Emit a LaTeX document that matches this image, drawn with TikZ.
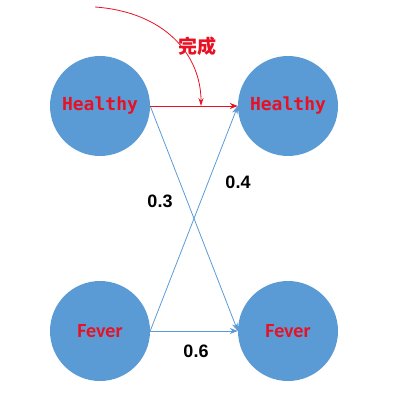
\documentclass[tikz,border=0pt]{standalone}
\usepackage{fontspec}
\usepackage{amsmath}
\setmainfont{Liberation Sans}
\newfontfamily\cjk{Noto Sans CJK SC}
\newfontfamily\monofont{DejaVu Sans Mono}
\newfontfamily\calfont{Carlito}
\usetikzlibrary{positioning,arrows.meta}
\definecolor{stateblue}{HTML}{5B9BD5}
\definecolor{labelred}{HTML}{E81123}

\begin{document}
\begin{tikzpicture}[x=1pt, y=-1pt,
  state/.style={circle, fill=stateblue, minimum size=100pt, inner sep=0pt},
  trans/.style={draw=stateblue, line width=0.8pt, -{Stealth[length=8pt, width=6pt]}},
  prob/.style={font=\bfseries\fontsize{18}{18}\selectfont}]
\useasboundingbox (0,0) rectangle (419,414);
\node[state] (h1) at (100, 106) {\monofont\bfseries\fontsize{18}{18}\selectfont\color{labelred}Healthy};
\node[state] (h2) at (288, 106) {\monofont\bfseries\fontsize{18}{18}\selectfont\color{labelred}Healthy};
\node[state] (f1) at (100, 331) {\calfont\bfseries\fontsize{20}{20}\selectfont\color{labelred}Fever};
\node[state] (f2) at (288, 331) {\calfont\bfseries\fontsize{20}{20}\selectfont\color{labelred}Fever};

\draw[trans] (h1.east) -- (f2.west);
\draw[trans] (f1.east) -- (h2.west);
\draw[trans] (f1.east) -- (f2.west);
\draw[labelred, line width=0.8pt, -{Stealth[length=8pt, width=6pt]}] (h1.east) -- (h2.west);

\coordinate (start) at (95, 7);
\coordinate (hit) at (201, 106);
\draw[labelred, line width=0.8pt, -{Stealth[length=8pt, width=5pt]}] (start) .. controls (165, 12) and (201, 55) .. (hit);
\node[font=\cjk\bfseries\fontsize{19}{19}\selectfont, text=labelred] (done) at (197, 46) {完成};

\node[prob] (p3) at (160, 201) {0.3};
\node[prob] (p4) at (238, 182) {0.4};
\node[prob] (p6) at (196, 351) {0.6};
\end{tikzpicture}
\end{document}
